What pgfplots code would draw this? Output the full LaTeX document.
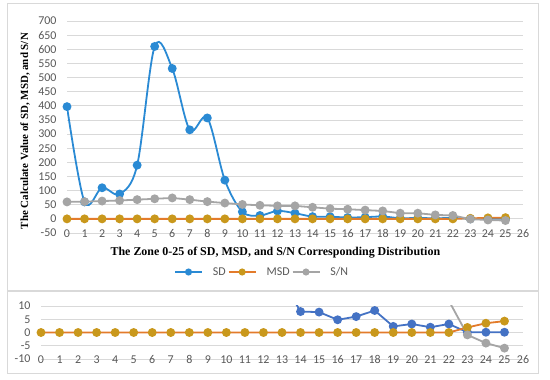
\documentclass[border=0pt]{standalone}
\usepackage{pgfplots}
\pgfplotsset{compat=1.18}
\usepackage{pgfplotstable}
\usepackage{fontspec}
\setmainfont{Carlito}
\newfontfamily\titlefont{Liberation Serif}
\definecolor{sdblue}{HTML}{2A8AD4}
\definecolor{sdblueb}{HTML}{4472C4}
\definecolor{msdgold}{HTML}{C9981C}
\definecolor{msdline}{HTML}{E37B2B}
\definecolor{sngray}{HTML}{A5A5A5}
\definecolor{gridc}{HTML}{D9D9D9}
\definecolor{tickc}{HTML}{595959}
\definecolor{framec}{HTML}{D9D9D9}

\pgfplotstableread{
x sd msd sn
0 397 0 60
1 60 0 61
2 110 0 63
3 88 0 65
4 190 0 68
5 610 0 71
6 532 0 74
7 315 0 68
8 357 0 61
9 137 0 56
10 25 0 51
11 12 0 48
12 28 0 46
13 20 0 46
14 7.9 0 41
15 7.7 0 36
16 4.8 0 34
17 6.0 0 31
18 8.3 0 28
19 2.3 0 20
20 3.2 0 20
21 2.0 0 14
22 3.2 0 12
23 0.1 1.9 -0.9
24 0.1 3.5 -4
25 0.1 4.3 -5.9
}\data

\pgfplotsset{
  excel/.style={
    scale only axis,
    axis line style={draw=none},
    tick style={draw=none},
    ymajorgrids, grid style={gridc, line width=0.8bp},
    xmin=0, xmax=26,
    xtick={0,...,26},
    ticklabel style={font=\fontsize{12}{14}\selectfont, text=tickc},
    /pgf/number format/assume math mode=true,
    xticklabel style={anchor=base, yshift=-4.2bp},
    yticklabel style={anchor=east},
    clip=true,
  }
}

\begin{document}
\begin{tikzpicture}
\useasboundingbox (0,0) rectangle (550bp,380bp);
\fill[white] (0,0) rectangle (550bp,380bp);
\draw[framec, line width=0.8bp] (7bp,90bp) rectangle (538bp,377bp);
\draw[framec, line width=0.8bp] (7bp,7bp) rectangle (538bp,89bp);

\begin{axis}[excel,
  at={(67bp,147bp)}, anchor=south west,
  width=456bp, height=212bp,
  ymin=-50, ymax=700, ytick={-50,0,...,700},
  yticklabel style={xshift=-7bp},
  xlabel={\titlefont\bfseries The Zone 0-25 of SD, MSD, and S/N Corresponding Distribution},
  xlabel style={at={(axis description cs:0.457,0)}, anchor=center, yshift=-20bp, font=\fontsize{12}{14}\selectfont},
  ylabel={\titlefont\bfseries The Calculate Value of SD, MSD, and S/N},
  ylabel style={at={(axis description cs:-0.092,0.481)}, anchor=center, font=\fontsize{11}{13}\selectfont},
  legend columns=3,
  legend style={at={(axis description cs:0.428,-0.184)}, anchor=center, draw=none, fill=none,
    font=\fontsize{12}{14}\selectfont, text=tickc, inner sep=1bp,
    /tikz/every odd column/.append style={column sep=8bp},
    /tikz/every even column/.append style={column sep=0bp}},
  legend image code/.code={\draw[mark repeat=2,mark phase=2,mark size=2.6bp] plot coordinates {(0bp,0bp) (13.5bp,0bp) (27bp,0bp)};},
]
\addplot[sdblue, line width=1.8bp, smooth, tension=0.55, mark=*, mark size=3.5bp, mark options={fill=sdblue, draw=sdblue}] table[x=x,y=sd] {\data};
\addlegendentry{SD}
\addplot[msdline, line width=1.8bp, mark=*, mark size=3.5bp, mark options={fill=msdgold, draw=msdgold}] table[x=x,y=msd] {\data};
\addlegendentry{MSD}
\addplot[sngray, line width=1.8bp, mark=*, mark size=3.5bp, mark options={fill=sngray, draw=sngray}] table[x=x,y=sn] {\data};
\addlegendentry{S/N}
\end{axis}

\begin{axis}[excel,
  at={(41bp,21bp)}, anchor=south west,
  width=482bp, height=53bp,
  ymin=-10, ymax=10, ytick={-10,-5,...,10},
  yticklabel style={xshift=-7bp},
]
\addplot[sdblueb, line width=1.8bp, mark=*, mark size=3.5bp, mark options={fill=sdblueb, draw=sdblueb}] table[x=x,y=sd] {\data};
\addplot[msdline, line width=1.8bp, mark=*, mark size=3.5bp, mark options={fill=msdgold, draw=msdgold}] table[x=x,y=msd] {\data};
\addplot[sngray, line width=1.8bp, mark=*, mark size=3.5bp, mark options={fill=sngray, draw=sngray}] table[x=x,y=sn] {\data};
\end{axis}
\end{tikzpicture}
\end{document}
